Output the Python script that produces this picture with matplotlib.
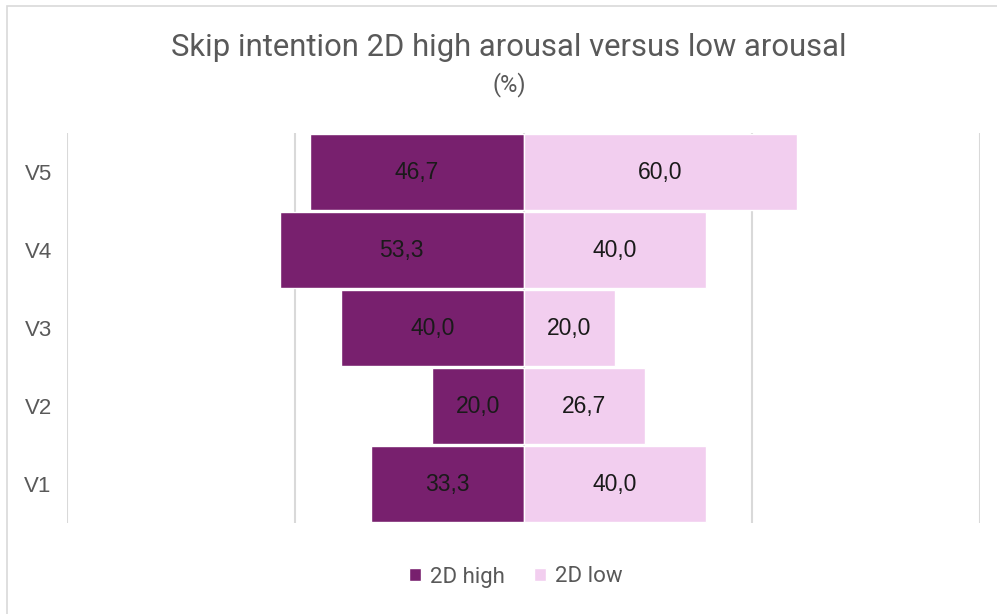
import matplotlib.pyplot as plt
from matplotlib.patches import Rectangle

plt.rcParams['font.family'] = ['Roboto', 'DejaVu Sans']

categories = ['V1', 'V2', 'V3', 'V4', 'V5']
high = [33.3, 20.0, 40.0, 53.3, 46.7]
low = [40.0, 26.7, 20.0, 40.0, 60.0]

c_high = '#78206E'
c_low = '#F2CEEF'
grey = '#595959'

fig = plt.figure(figsize=(9.97, 6.14), dpi=100)
ax = fig.add_axes([67 / 997, 1 - 523 / 614, (980 - 67) / 997, (523 - 133) / 614])

y = range(len(categories))
ax.barh(y, [-v for v in high], height=0.965, color=c_high, edgecolor='white', linewidth=1, zorder=2, label='2D high')
ax.barh(y, low, height=0.965, color=c_low, edgecolor='white', linewidth=1, zorder=2, label='2D low')

for i in y:
    ax.text(-high[i] / 2, i, f'{high[i]:.1f}'.replace('.', ','), ha='center', va='center',
            fontsize=16.5, color='#1a1a1a', family='Liberation Sans', zorder=3)
    ax.text(low[i] / 2, i, f'{low[i]:.1f}'.replace('.', ','), ha='center', va='center',
            fontsize=16.5, color='#1a1a1a', family='Liberation Sans', zorder=3)

ax.set_xlim(-100, 100)
ax.set_ylim(-0.5, 4.5)
ax.set_xticks([-100, -50, 0, 50, 100])
ax.set_xticklabels([])
ax.tick_params(axis='x', length=0)
ax.grid(axis='x', color='#D9D9D9', linewidth=1.5, zorder=0)
ax.set_yticks(list(y))
ax.set_yticklabels(categories, fontsize=16, color=grey, family='Liberation Sans')
ax.tick_params(axis='y', length=0, pad=11)

for s in ax.spines.values():
    s.set_visible(False)

fig.text(0.51, 1 - 47 / 614, 'Skip intention 2D high arousal versus low arousal',
         ha='center', va='center', fontsize=22.3, color=grey)
fig.text(0.511, 1 - 85 / 614, '(%)', ha='center', va='center', fontsize=17, color=grey)

handles, labels = ax.get_legend_handles_labels()
fig.legend(handles, labels, loc='center', bbox_to_anchor=(0.517, 1 - 577 / 614), ncol=2,
           frameon=False, fontsize=16, handlelength=0.55, handleheight=0.55,
           handletextpad=0.4, columnspacing=1.3, labelcolor=grey)

fig.patches.append(Rectangle((7 / 997, -0.01), 1.0, 1 - 6 / 614 + 0.01, transform=fig.transFigure,
                             fill=False, edgecolor='#D9D9D9', linewidth=1.2))

fig.savefig('out.png', dpi=100)
